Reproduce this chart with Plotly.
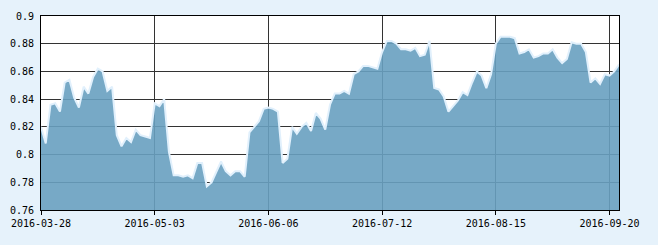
import pandas as pd
import plotly.graph_objects as go

# Trading-day categories (China A-share calendar, 2016-03-28 .. 2016-09-22)
holidays = ["2016-04-04", "2016-05-02", "2016-06-09", "2016-06-10",
            "2016-09-15", "2016-09-16"]
dates = [d.strftime("%Y-%m-%d") for d in pd.bdate_range("2016-03-28", "2016-09-22")
         if d.strftime("%Y-%m-%d") not in holidays]

values = [
    0.820, 0.808, 0.836, 0.837, 0.831, 0.852, 0.854, 0.841, 0.834, 0.849,
    0.844, 0.856, 0.862, 0.860, 0.846, 0.849, 0.814, 0.806, 0.812, 0.809,
    0.818, 0.814, 0.813, 0.812, 0.837, 0.835, 0.840, 0.802, 0.785, 0.785,
    0.784, 0.785, 0.783, 0.794, 0.794, 0.777, 0.780, 0.787, 0.795, 0.788,
    0.785, 0.788, 0.788, 0.784, 0.816, 0.820, 0.824, 0.833, 0.834, 0.833,
    0.831, 0.794, 0.797, 0.820, 0.815, 0.820, 0.823, 0.817, 0.830, 0.826,
    0.818, 0.836, 0.844, 0.844, 0.846, 0.844, 0.858, 0.860, 0.864, 0.864,
    0.863, 0.862, 0.874, 0.882, 0.882, 0.880, 0.876, 0.876, 0.875, 0.877,
    0.871, 0.872, 0.882, 0.848, 0.847, 0.842, 0.831, 0.835, 0.839, 0.845,
    0.843, 0.852, 0.860, 0.857, 0.848, 0.858, 0.880, 0.885, 0.885, 0.885,
    0.884, 0.873, 0.874, 0.876, 0.870, 0.871, 0.873, 0.873, 0.876, 0.870,
    0.866, 0.869, 0.881, 0.880, 0.880, 0.874, 0.852, 0.855, 0.851, 0.858,
    0.857, 0.860, 0.865,
]

tick_dates = ["2016-03-28", "2016-05-03", "2016-06-06", "2016-07-12",
              "2016-08-15", "2016-09-20"]

FONT = "DejaVu Sans Mono"

fig = go.Figure()
fig.add_trace(go.Scatter(
    x=dates, y=values, mode="lines", fill="tozeroy",
    fillcolor="rgba(104,160,192,0.9)",
    line=dict(color="rgba(225,240,252,1)", width=2),
    hoverinfo="x+y",
))

fig.update_layout(
    width=658, height=245,
    margin=dict(l=38, r=39, t=10, b=35),
    paper_bgcolor="#e6f2fb",
    plot_bgcolor="white",
    showlegend=False,
    font=dict(family=FONT, size=10, color="black"),
)
fig.update_xaxes(
    type="category", range=[0, len(dates) - 1],
    tickvals=tick_dates, ticktext=tick_dates,
    ticks="outside", ticklen=4, tickcolor="black",
    showgrid=True, gridcolor="#333333", gridwidth=1,
    showline=True, linecolor="black", linewidth=1, mirror=True,
    tickfont=dict(family=FONT, size=10, color="black"),
    zeroline=False,
)
fig.update_yaxes(
    range=[0.76, 0.9], dtick=0.02, tick0=0.76,
    showgrid=True, gridcolor="#333333", gridwidth=1,
    showline=True, linecolor="black", linewidth=1, mirror=True,
    ticks="", ticklabelstandoff=4,
    tickfont=dict(family=FONT, size=10, color="black"),
    zeroline=False,
)

fig.write_html("out.html")
